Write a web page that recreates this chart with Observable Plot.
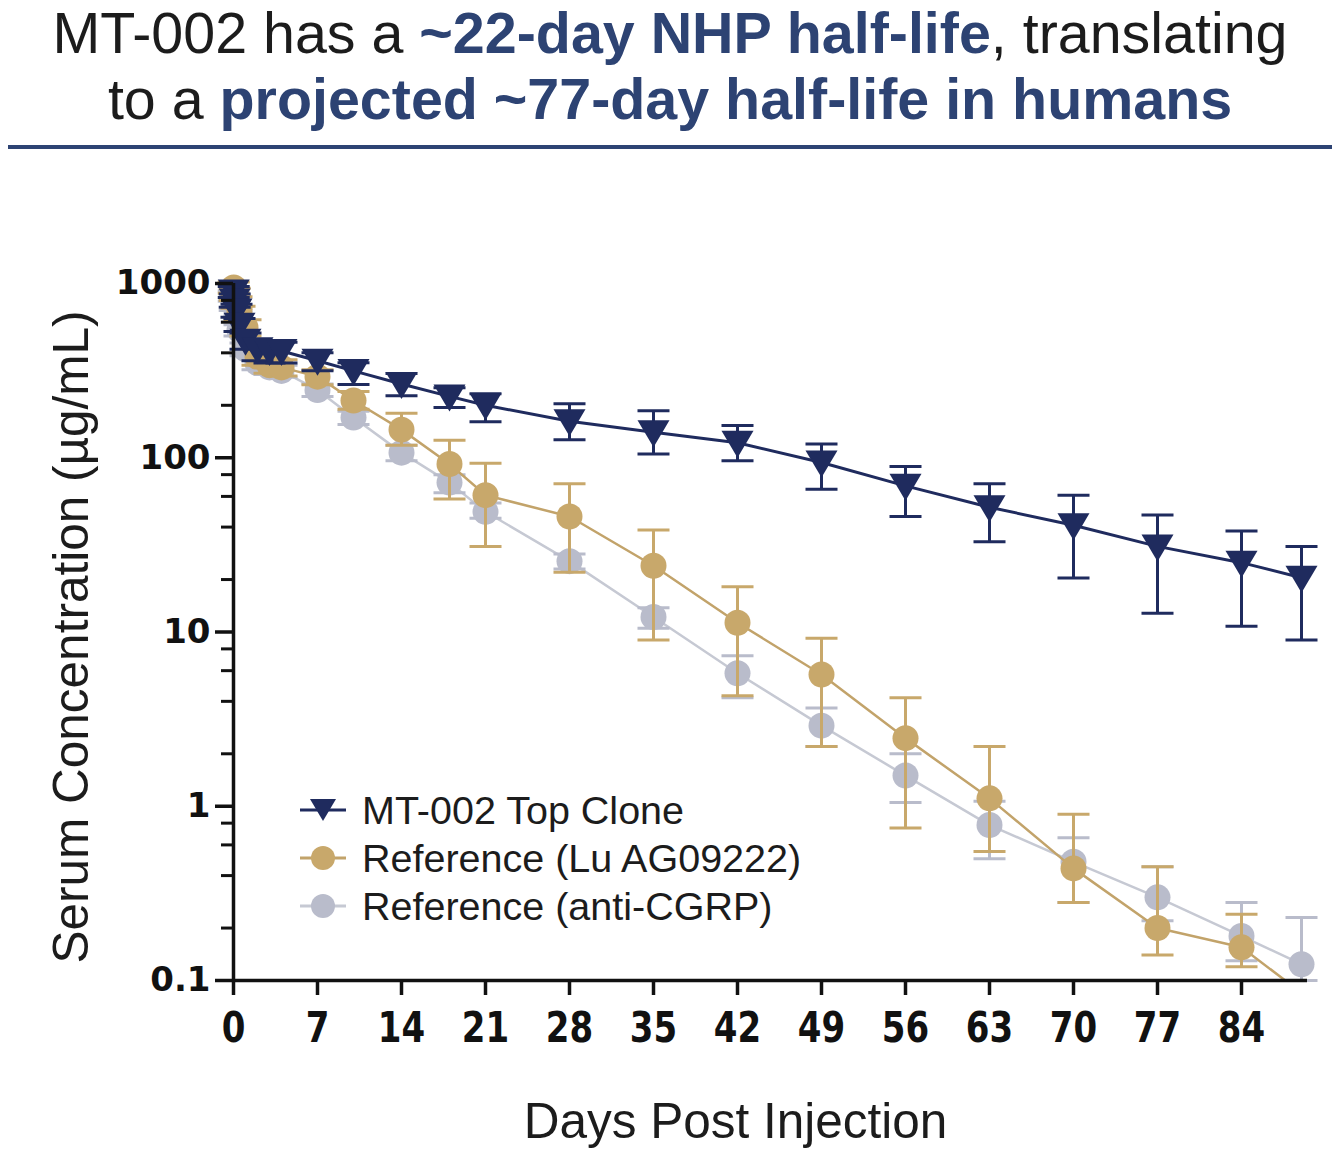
<!DOCTYPE html>
<html>
<head>
<meta charset="utf-8">
<script src="https://cdn.jsdelivr.net/npm/d3@7"></script>
<script src="https://cdn.jsdelivr.net/npm/@observablehq/plot@0.6"></script>
<style>
  html, body { margin: 0; padding: 0; background: #fff; }
  body { width: 1340px; height: 1159px; position: relative; overflow: hidden; font-family: "Liberation Sans", Arial, sans-serif; }
  #title { position: absolute; top: 0; left: 0; width: 1340px; text-align: center; font-size: 57.4px; line-height: 66px; color: #1c1c1c; }
  #title b { color: #2d4373; }
  #rule { position: absolute; top: 145px; left: 8px; width: 1324px; height: 4px; background: #2d4373; }
  #chart { position: absolute; top: 150px; left: 0; }
  #legend { position: absolute; left: 298px; top: 786px; font-size: 39.5px; color: #1c1c1c; }
  #legend .row { height: 48px; display: flex; align-items: center; }
  #legend svg { width: 50px; height: 40px; margin-right: 14px; }
</style>
</head>
<body>
<div id="title">MT-002 has a <b>~22-day NHP half-life</b>, translating<br>to a <b>projected ~77-day half-life in humans</b></div>
<div id="rule"></div>
<div id="chart"></div>
<div id="legend"></div>
<script>
// ---- data ----
const days = [0.02, 0.1, 0.25, 0.5, 1, 2, 3, 4, 7, 10, 14, 18, 21, 28, 35, 42, 49, 56, 63, 70, 77, 84, 89];

const mt002Mean = [900, 800, 700, 580, 470, 420, 410, 410, 360, 315, 265, 225, 200, 162, 140, 122, 94, 69, 52, 41, 31, 25, 20.5];
const mt002Low  = [830, 730, 640, 530, 420, 360, 350, 350, 316, 263, 227, 194, 161, 127, 105, 96, 66, 46, 33, 20.4, 12.8, 10.8, 9];
const mt002High = [960, 870, 760, 630, 520, 470, 460, 460, 400, 351, 304, 252, 233, 204, 186, 153, 120, 89, 71, 61, 47, 38, 31];

const luMean = [950, 870, 780, 680, 560, 380, 340, 330, 292, 213, 145, 92, 61, 46, 24, 11.3, 5.7, 2.46, 1.11, 0.44, 0.2, 0.155, 0.085];
const luLow  = [880, 800, 720, 620, 500, 340, 305, 295, 262, 190, 118, 58, 31, 22, 9, 4.3, 2.2, 0.75, 0.55, 0.28, 0.14, 0.12, null];
const luHigh = [1020, 940, 840, 740, 620, 420, 375, 365, 320, 240, 180, 126, 93, 71, 38.5, 18.2, 9.2, 4.2, 2.2, 0.9, 0.45, 0.24, null];

const cgrpMean = [850, 750, 650, 540, 420, 350, 330, 315, 245, 170, 107, 72, 49, 25.5, 12.2, 5.8, 2.9, 1.5, 0.78, 0.48, 0.3, 0.18, 0.124];
const cgrpLow  = [790, 700, 600, 500, 385, 320, 300, 290, 225, 155, 96, 63, 45, 23, 10.5, 4.2, 2.2, 1.05, 0.5, 0.28, 0.22, 0.13, 0.1];
const cgrpHigh = [910, 800, 700, 580, 455, 380, 360, 340, 265, 185, 118, 80, 55, 28, 13.8, 7.3, 3.66, 2.0, 1.07, 0.66, 0.45, 0.28, 0.23];

const seriesNames = ["MT-002 Top Clone", "Reference (Lu AG09222)", "Reference (anti-CGRP)"];
const xTicks = [0, 7, 14, 21, 28, 35, 42, 49, 56, 63, 70, 77, 84];
const yTicks = [0.1, 1, 10, 100, 1000];
const yMinorTicks = [0.2, 0.4, 0.6, 0.8, 2, 4, 6, 8, 20, 40, 60, 80, 200, 400, 600, 800];
const xLabel = "Days Post Injection";
const yLabel = "Serum Concentration (µg/mL)";

// ---- styling ----
const NAVY = "#1f2b5e", GOLD = "#c8a86b", GRAY = "#b9bccb";
const GOLD_LINE = "#c2a36a", GRAY_LINE = "#c6c9d3";

const build = (mean, low, high) => days.map((d, i) => ({day: d, v: mean[i], lo: low[i], hi: high[i]}));
const mt = build(mt002Mean, mt002Low, mt002High);
const lu = build(luMean, luLow, luHigh);
const cg = build(cgrpMean, cgrpLow, cgrpHigh);

const capSymbol = {draw(ctx, size) { const r = Math.sqrt(size / Math.PI); ctx.moveTo(-r, 0); ctx.lineTo(r, 0); }};
const triDown = {draw(ctx, size) {
  const r = Math.sqrt(size / Math.PI);
  ctx.moveTo(-1.6 * r, -1.2 * r); ctx.lineTo(1.6 * r, -1.2 * r); ctx.lineTo(0, 1.5 * r); ctx.closePath();
}};

function seriesMarks(data, color, lineColor, lineWidth, symbol, r, clipLine) {
  const bars = data.filter(d => d.lo != null && d.hi != null);
  return [
    Plot.line(data, {x: "day", y: "v", stroke: lineColor, strokeWidth: lineWidth, clip: clipLine}),
    Plot.ruleX(bars, {x: "day", y1: "lo", y2: "hi", stroke: color, strokeWidth: 3}),
    Plot.dot(bars, {x: "day", y: "lo", symbol: capSymbol, r: 16, stroke: color, strokeWidth: 3, fill: "none"}),
    Plot.dot(bars, {x: "day", y: "hi", symbol: capSymbol, r: 16, stroke: color, strokeWidth: 3, fill: "none"}),
    Plot.dot(data.filter(d => d.v >= 0.1), {x: "day", y: "v", symbol, r, fill: color, stroke: "none"})
  ];
}

const chart = Plot.plot({
  width: 1340,
  height: 1009,
  marginLeft: 233,
  marginRight: 33,
  marginTop: 133,
  marginBottom: 179,
  style: {background: "transparent", color: "#111", fontFamily: "'Liberation Sans', Arial, sans-serif"},
  x: {domain: [0, 89.5]},
  y: {type: "log", domain: [0.1, 1000]},
  marks: [
    ...seriesMarks(cg, GRAY, GRAY_LINE, 2.5, "circle", 13, false),
    ...seriesMarks(lu, GOLD, GOLD_LINE, 2.5, "circle", 13, true),
    ...seriesMarks(mt, NAVY, NAVY, 3, triDown, 10, false),
    Plot.ruleY([0.1], {stroke: "#111", strokeWidth: 3.5}),
    Plot.ruleX([0], {stroke: "#111", strokeWidth: 3.5}),
    Plot.axisX({ticks: xTicks, tickSize: 15, tickPadding: 17, strokeWidth: 3.5, label: null,
      tickFormat: d => String(d), fontSize: 42, fontWeight: "bold",
      fontFamily: "'DejaVu Sans', sans-serif", fill: "#111"}),
    Plot.axisY({ticks: yTicks, tickSize: 18, tickPadding: 5, strokeWidth: 3.5, label: null,
      tickFormat: d => String(d), fontSize: 34, fontWeight: "bold",
      fontFamily: "'DejaVu Sans', sans-serif", fill: "#111"}),
    Plot.axisY({ticks: yMinorTicks, tickSize: 12, strokeWidth: 3, label: null, tickFormat: () => ""}),
    Plot.text([xLabel], {frameAnchor: "bottom", dx: -35, dy: 142, lineAnchor: "middle", textAnchor: "middle",
      text: d => d, fontSize: 49.5, fill: "#1c1c1c"}),
    Plot.text([yLabel], {frameAnchor: "left", dx: -161, dy: 5, rotate: -90, textAnchor: "middle", lineAnchor: "middle",
      text: d => d, fontSize: 49.5, fill: "#1c1c1c"})
  ]
});
// condense the x tick labels horizontally (the reference uses a narrow bold face)
chart.querySelectorAll('g[aria-label="x-axis tick label"] text').forEach(t => {
  const tr = t.getAttribute("transform") || "";
  t.setAttribute("transform", tr + " scale(0.81,1)");
});
document.getElementById("chart").appendChild(chart);

// ---- legend (HTML) ----
const legendItems = [
  {name: seriesNames[0], color: NAVY, line: NAVY, sym: "tri"},
  {name: seriesNames[1], color: GOLD, line: GOLD_LINE, sym: "circle"},
  {name: seriesNames[2], color: GRAY, line: GRAY_LINE, sym: "circle"}
];
const legend = document.getElementById("legend");
for (const it of legendItems) {
  const row = document.createElement("div");
  row.className = "row";
  const marker = it.sym === "tri"
    ? `<path d="M12,9 L38,9 L25,31 Z" fill="${it.color}"/>`
    : `<circle cx="25" cy="20" r="12" fill="${it.color}"/>`;
  row.innerHTML = `<svg viewBox="0 0 50 40"><line x1="2" x2="48" y1="20" y2="20" stroke="${it.line}" stroke-width="3"/>${marker}</svg><span>${it.name}</span>`;
  legend.appendChild(row);
}
</script>
</body>
</html>
